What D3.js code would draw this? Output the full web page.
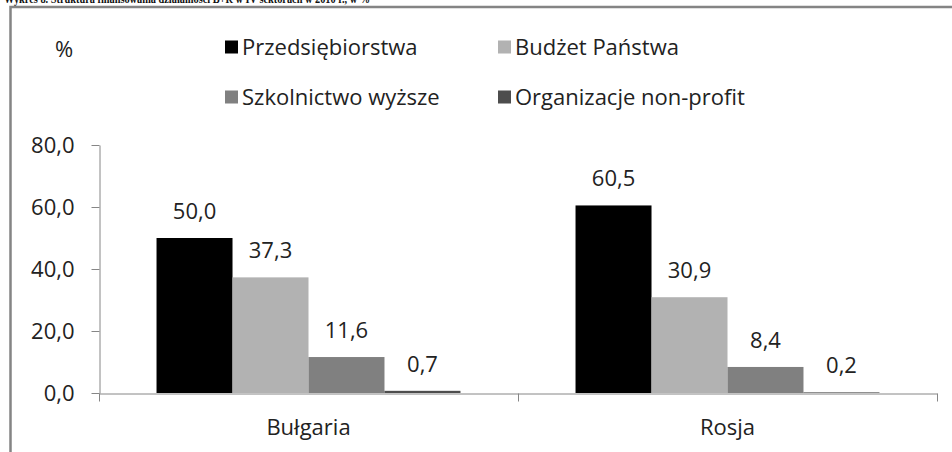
<!DOCTYPE html>
<html>
<head>
<meta charset="UTF-8">
<title>Struktura finansowania B+R</title>
<style>
    body {
        margin: 0;
        background: #fff;
    }
    svg text {
        font-family: "Open Sans", sans-serif;
        fill: #222;
    }
</style>
</head>
<body>
<script src="https://cdnjs.cloudflare.com/ajax/libs/d3/7.8.5/d3.min.js"></script>
<script>

    var title = "Wykres 8. Struktura finansowania działalności B+R w IV sektorach w 2010 r., w %";
    var countries = ["Bułgaria", "Rosja"];
    var series = ["Przedsiębiorstwa", "Budżet Państwa", "Szkolnictwo wyższe", "Organizacje non-profit"];
    var colors = ["#000000", "#b2b2b2", "#808080", "#4d4d4d"];
    var bulgaria = [50.0, 37.3, 11.6, 0.7];
    var rosja = [60.5, 30.9, 8.4, 0.2];
    var yTicks = [0, 20, 40, 60, 80];

    var width = 952,
        height = 452;

    var axisColor = "#868686";
    var fontSize = 22;
    var fmt = function(v) { return d3.format(".1f")(v).replace(".", ","); };

    var rows = countries.map(function(c, i) {
        return { country: c, values: [bulgaria, rosja][i] };
    });

    var svg = d3.select("body")
        .append("svg")
        .attr("width", width)
        .attr("height", height);

    // title (cut off at the top, as in the source scan)
    svg.append("text")
        .attr("x", 4)
        .attr("y", 2.5)
        .attr("textLength", 366)
        .attr("lengthAdjust", "spacingAndGlyphs")
        .style("font-family", "'Liberation Serif', serif")
        .style("font-weight", "bold")
        .style("font-size", "12px")
        .style("fill", "#111")
        .text(title);

    // chart area frame
    svg.append("rect")
        .attr("x", 10.5)
        .attr("y", 7)
        .attr("width", 1000)
        .attr("height", 1000)
        .attr("fill", "none")
        .attr("stroke", "#848484")
        .attr("stroke-width", 2.5);

    var x = d3.scaleBand()
        .domain(countries)
        .range([99, 937]);

    var xInner = d3.scaleBand()
        .domain(series)
        .range([0, x.bandwidth()])
        .paddingInner(0)
        .paddingOuter(0.757);

    var y = d3.scaleLinear()
        .domain([0, 80])
        .range([393, 145]);

    var color = d3.scaleOrdinal(series, colors);

    // y axis
    var yAxis = svg.append("g")
        .attr("transform", "translate(99.5,0)")
        .call(d3.axisLeft(y).tickValues(yTicks).tickFormat(fmt)
            .tickSize(8).tickSizeOuter(0).tickPadding(17));
    yAxis.select(".domain").attr("stroke", axisColor);
    yAxis.selectAll(".tick line").attr("stroke", axisColor);
    yAxis.selectAll(".tick text")
        .style("font-size", fontSize + "px")
        .style("font-family", "'Open Sans', sans-serif")
        .attr("fill", "#222");
    yAxis.selectAll(".tick").attr("transform", function(d) {
        return "translate(0," + (Math.round(y(d)) + 0.5) + ")";
    });

    // bars
    var groups = svg.selectAll(".group")
        .data(rows)
        .enter().append("g")
        .attr("class", "group")
        .attr("transform", function(d) { return "translate(" + x(d.country) + ",0)"; });

    groups.selectAll("rect")
        .data(function(d) { return d.values.map(function(v, i) { return { s: series[i], v: v }; }); })
        .enter().append("rect")
        .attr("x", function(d) { return xInner(d.s); })
        .attr("y", function(d) { return y(d.v); })
        .attr("width", xInner.bandwidth())
        .attr("height", function(d) { return y(0) - y(d.v); })
        .attr("fill", function(d) { return color(d.s); });

    groups.selectAll(".val")
        .data(function(d) { return d.values.map(function(v, i) { return { s: series[i], v: v }; }); })
        .enter().append("text")
        .attr("class", "val")
        .attr("x", function(d) { return xInner(d.s) + xInner.bandwidth() / 2; })
        .attr("y", function(d) { return y(d.v) - 19; })
        .attr("text-anchor", "middle")
        .style("font-size", fontSize + "px")
        .text(function(d) { return fmt(d.v); });

    // x axis
    var xAxis = svg.append("g")
        .attr("transform", "translate(0," + (y(0) + 0.5) + ")")
        .call(d3.axisBottom(x).tickSize(0).tickSizeOuter(0).tickPadding(26));
    xAxis.select(".domain").attr("stroke", axisColor);
    xAxis.selectAll(".tick text")
        .style("font-size", fontSize + "px")
        .style("font-family", "'Open Sans', sans-serif")
        .attr("fill", "#222");

    var bounds = countries.map(function(c) { return x(c); }).concat([x.range()[1]]);
    xAxis.selectAll(".bound")
        .data(bounds)
        .enter().append("line")
        .attr("class", "bound")
        .attr("x1", function(d) { return Math.round(d) + 0.5; })
        .attr("x2", function(d) { return Math.round(d) + 0.5; })
        .attr("y1", 0)
        .attr("y2", 8)
        .attr("stroke", axisColor);

    // legend
    svg.append("text")
        .attr("x", 64)
        .attr("y", 57)
        .attr("text-anchor", "middle")
        .style("font-size", fontSize + "px")
        .text("%");

    var legendCols = [225, 498],
        legendRows = [47, 97];

    var legend = svg.selectAll(".legend")
        .data(series)
        .enter().append("g")
        .attr("class", "legend")
        .attr("transform", function(d, i) {
            return "translate(" + legendCols[i % 2] + "," + legendRows[Math.floor(i / 2)] + ")";
        });

    legend.append("rect")
        .attr("x", 0)
        .attr("y", -6.5)
        .attr("width", 13)
        .attr("height", 13)
        .attr("fill", function(d) { return color(d); });

    legend.append("text")
        .attr("x", 17)
        .attr("y", 8)
        .style("font-size", fontSize + "px")
        .text(function(d) { return d; });

</script>
</body>
</html>
